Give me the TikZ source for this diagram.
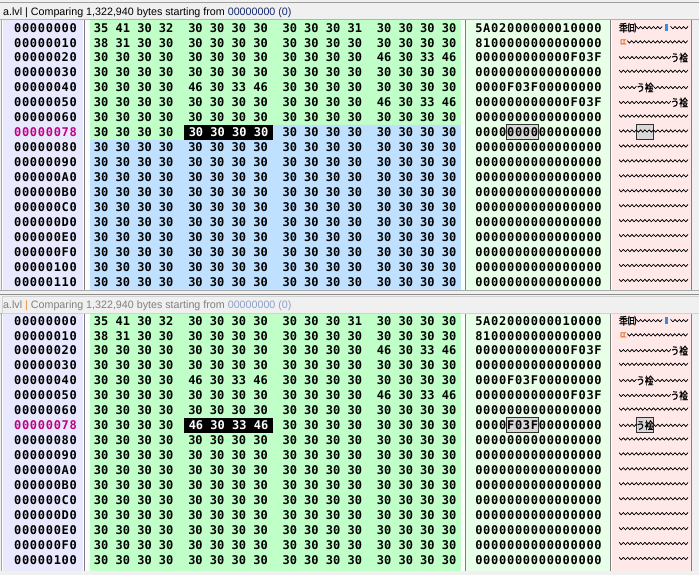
\documentclass[tikz,border=0pt]{standalone}
\usepackage{fontspec}
\setmainfont{Liberation Sans}
\newfontfamily\hexfont{DejaVu Sans Mono}
\newfontfamily\widehex[LetterSpace=6]{DejaVu Sans Mono}
\newfontfamily\cjk[FakeStretch=0.82,FakeBold=1.2]{Noto Sans CJK JP}

\definecolor{winbg}{RGB}{240,240,240}
\definecolor{addrbg}{RGB}{232,232,255}
\definecolor{hexgreen}{RGB}{192,255,200}
\definecolor{hexblue}{RGB}{192,224,255}
\definecolor{txtbg}{RGB}{232,255,232}
\definecolor{widebg}{RGB}{255,232,232}
\definecolor{hotaddr}{RGB}{192,0,128}
\definecolor{markgray}{RGB}{216,216,216}
\definecolor{markedge}{RGB}{48,48,48}
\definecolor{sepgray}{RGB}{128,128,128}
\definecolor{capnum}{RGB}{16,40,110}
\definecolor{capgray}{RGB}{128,128,128}
\definecolor{capbar}{RGB}{230,140,60}
\definecolor{capnumgray}{RGB}{140,160,200}
\definecolor{tofublue}{RGB}{60,140,230}
\definecolor{tofuorange}{RGB}{230,110,30}

\newcommand\hexzero{30 30 30 30}
\newcommand\hexfof{46 30 33 46}
\newcommand\txtzero{0000000000000000}
\newcommand\wavezero{〰〰〰〰〰〰〰〰}
\newcommand\tofu{\makebox[0.82em]{\textcolor{tofublue}{\rule[0.05em]{0.22em}{0.72em}}}}

\begin{document}
\begin{tikzpicture}[x=1pt,y=-1pt,
	addr/.style={font=\widehex\bfseries\fontsize{12}{12}\selectfont,inner sep=0pt},
	hex/.style={font=\hexfont\bfseries\fontsize{12}{12}\selectfont,inner sep=0pt},
	hexhl/.style={hex,fill=black,text=white,minimum width=89pt,minimum height=15pt},
	txt/.style={addr},
	wide/.style={font=\cjk\fontsize{10.5}{10.5}\selectfont,inner sep=0pt},
	markbox/.style={fill=markgray,draw=markedge,line width=0.8pt},
	sepline/.style={draw=sepgray,line width=1pt},
	caption/.style={font=\fontsize{10.7}{12}\selectfont,anchor=west,inner sep=0pt}]
	\fill[winbg] (0,0) rectangle (699,575);
	\useasboundingbox (0,0) rectangle (699,575);
	% two panes: header, then the columns
	\foreach \ht/\cb in {3/289.5,297/571} {
		\fill[white] (1,{\ht+16.5}) rectangle (692,\cb);
		\fill[addrbg] (3,{\ht+16.5}) rectangle (83,\cb);
		\fill[hexgreen] (90,{\ht+16.5}) rectangle (461,\cb);
		\fill[txtbg] (466,{\ht+16.5}) rectangle (610,\cb);
		\fill[widebg] (611.5,{\ht+16.5}) rectangle (691,\cb);
		\foreach \sx in {84.5,465.5,610.5,691.5}
			\draw[sepline] (\sx,{\ht+16.5}) -- (\sx,\cb);
		\draw[sepline,draw=gray!70] (1,{\ht+16.5}) -- (1,\cb);
		\draw[draw=gray!60] (0,{\ht+16.5}) -- (699,{\ht+16.5});
	}
	\draw[draw=gray!75,line width=1pt] (0,2.5) -- (699,2.5);
	\draw[draw=gray!65] (0,290.5) -- (699,290.5);
	\draw[draw=gray!90,line width=1pt] (0,294) -- (699,294);
	\draw[draw=gray!35] (2.5,296.5) rectangle (699,313.5);
	% compared part of the top pane
	\fill[hexblue] (273,124.8) -- (461,124.8) -- (461,289.5) -- (90,289.5)
		-- (90,139.8) -- (273,139.8) -- cycle;
	\node[caption] (cap-top) at (3,12.7)
		{a.lvl | Comparing 1,322,940 bytes starting from \textcolor{capnum}{00000000 (0)}};
	\node[caption,text=capgray] (cap-bot) at (3,305.3)
		{a.lvl \textcolor{capbar}{|} Comparing 1,322,940 bytes starting from \textcolor{capnumgray}{00000000 (0)}};
	\foreach \py/\pn/\hl/\txtseven/\wideseven/\rest in {
		27.7/top/\hexzero/\txtzero/\wavezero/{00000080,00000090,000000A0,000000B0,000000C0,000000D0,000000E0,000000F0,00000100,00000110},
		320.7/bot/\hexfof/0000F03F00000000/{〰〰う䘳〰〰〰〰}/{00000080,00000090,000000A0,000000B0,000000C0,000000D0,000000E0,000000F0,00000100}} {
		\foreach \addr/\ga/\gb/\gc/\gd/\txt/\wide [count=\r from 0] in {
			00000000/35 41 30 32/\hexzero/30 30 30 31/\hexzero/5A02000000010000/{䄵㈰〰〰〰\tofu〰〰},
			00000010/38 31 30 30/\hexzero/\hexzero/\hexzero/8100000000000000/{\textcolor{tofuorange}{ㄸ}〰〰〰〰〰〰〰},
			00000020/\hexzero/\hexzero/\hexzero/\hexfof/000000000000F03F/{〰〰〰〰〰〰う䘳},
			00000030/\hexzero/\hexzero/\hexzero/\hexzero/\txtzero/\wavezero,
			00000040/\hexzero/\hexfof/\hexzero/\hexzero/0000F03F00000000/{〰〰う䘳〰〰〰〰},
			00000050/\hexzero/\hexzero/\hexzero/\hexfof/000000000000F03F/{〰〰〰〰〰〰う䘳},
			00000060/\hexzero/\hexzero/\hexzero/\hexzero/\txtzero/\wavezero} {
			\pgfmathsetmacro\ry{\py+14.94*\r}
			\node[addr] (\pn-a\r) at (45.5,\ry) {\addr};
			\node[hex] (\pn-g\r-1) at (133.7,\ry) {\ga};
			\node[hex] (\pn-g\r-2) at (228,\ry) {\gb};
			\node[hex] (\pn-g\r-3) at (322.3,\ry) {\gc};
			\node[hex] (\pn-g\r-4) at (416.6,\ry) {\gd};
			\node[txt] (\pn-t\r) at (538.5,\ry) {\txt};
			\node[wide] (\pn-w\r) at (653.5,\ry) {\wide};
		}
		% row 00000078, the selected cell
		\pgfmathsetmacro\ry{\py+14.94*7}
		\draw[markbox] (506.5,\ry-7.5) rectangle (538.5,\ry+7.5);
		\draw[markbox] (636,\ry-7.5) rectangle (653,\ry+7.5);
		\node[addr,text=hotaddr] (\pn-a7) at (45.5,\ry) {00000078};
		\node[hex] (\pn-g7-1) at (133.7,\ry) {\hexzero};
		\node[hexhl] (\pn-g7-2) at (228.5,\ry) {\hl};
		\node[hex] (\pn-g7-3) at (322.3,\ry) {\hexzero};
		\node[hex] (\pn-g7-4) at (416.6,\ry) {\hexzero};
		\node[txt] (\pn-t7) at (538.5,\ry) {\txtseven};
		\node[wide] (\pn-w7) at (653.5,\ry) {\wideseven};
		\foreach \addr [count=\r from 8] in \rest {
			\pgfmathsetmacro\ry{\py+14.94*\r}
			\node[addr] (\pn-a\r) at (45.5,\ry) {\addr};
			\foreach \g/\gx in {1/133.7,2/228,3/322.3,4/416.6}
				\node[hex] (\pn-g\r-\g) at (\gx,\ry) {\hexzero};
			\node[txt] (\pn-t\r) at (538.5,\ry) {\txtzero};
			\node[wide] (\pn-w\r) at (653.5,\ry) {\wavezero};
		}
	}
\end{tikzpicture}
\end{document}
